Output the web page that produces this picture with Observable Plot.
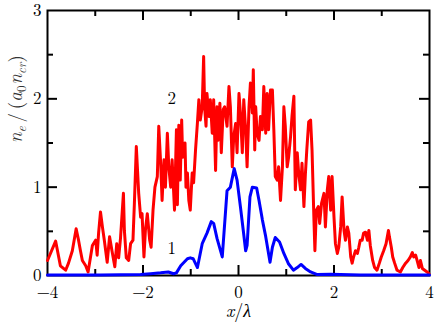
<!DOCTYPE html>
<html><head><meta charset="utf-8">
<script src="https://cdn.jsdelivr.net/npm/d3@7"></script>
<script src="https://cdn.jsdelivr.net/npm/@observablehq/plot@0.6"></script>
<style>
body{margin:0;background:#fff}
#chart svg text, #chart svg tspan{font-family:"Latin Modern Roman","Liberation Serif",serif !important;}
</style>
</head><body><div id="chart"></div>
<script>
// Curve 2 (red, noisy)
const redX = [-4.00,-3.83,-3.73,-3.62,-3.56,-3.48,-3.40,-3.35,-3.31,-3.27,-3.20,-3.15,-3.06,-2.99,-2.96,-2.93,-2.89,-2.85,-2.81,-2.75,-2.70,-2.65,-2.59,-2.55,-2.51,-2.47,-2.41,-2.39,-2.35,-2.30,-2.26,-2.21,-2.18,-2.14,-2.09,-2.05,-2.02,-1.98,-1.95,-1.91,-1.86,-1.83,-1.79,-1.75,-1.70,-1.67,-1.63,-1.60,-1.56,-1.53,-1.49,-1.46,-1.42,-1.39,-1.34,-1.30,-1.28,-1.25,-1.22,-1.19,-1.17,-1.12,-1.10,-1.07,-1.04,-1.01,-0.97,-0.94,-0.90,-0.86,-0.83,-0.80,-0.76,-0.73,-0.71,-0.68,-0.66,-0.62,-0.59,-0.55,-0.52,-0.48,-0.45,-0.43,-0.39,-0.36,-0.32,-0.29,-0.24,-0.20,-0.17,-0.13,-0.10,-0.06,-0.03,0.01,0.04,0.08,0.11,0.15,0.18,0.22,0.25,0.29,0.31,0.34,0.36,0.39,0.43,0.46,0.50,0.53,0.57,0.60,0.63,0.67,0.71,0.74,0.77,0.81,0.84,0.88,0.92,0.95,0.98,1.02,1.05,1.09,1.12,1.16,1.19,1.23,1.26,1.30,1.33,1.37,1.40,1.43,1.47,1.51,1.54,1.58,1.60,1.63,1.67,1.70,1.74,1.79,1.82,1.86,1.89,1.93,1.96,2.00,2.03,2.07,2.10,2.14,2.17,2.21,2.24,2.28,2.31,2.35,2.38,2.41,2.45,2.49,2.52,2.55,2.59,2.62,2.66,2.70,2.73,2.76,2.81,2.85,2.90,2.95,2.99,3.04,3.09,3.14,3.16,3.20,3.23,3.27,3.32,3.39,3.44,3.50,3.55,3.60,3.64,3.67,3.71,3.74,3.78,3.81,3.85,3.90,3.95,3.99];
const redY = [0.17,0.39,0.11,0.06,0.14,0.28,0.53,0.40,0.28,0.17,0.11,0.04,0.34,0.40,0.23,0.48,0.72,0.55,0.40,0.15,0.44,0.28,0.10,0.36,0.20,0.43,0.93,0.51,0.20,0.17,0.36,0.40,0.82,1.46,0.93,0.66,0.70,0.21,0.51,0.70,0.40,0.32,0.74,1.00,1.12,1.69,1.27,0.85,1.31,1.00,1.61,1.23,1.00,1.31,0.74,1.65,0.80,1.70,1.08,1.76,1.34,1.50,1.00,1.16,0.85,0.74,1.16,1.05,1.42,1.73,1.99,1.76,1.91,2.48,1.91,1.69,2.06,1.80,1.99,1.61,1.99,1.19,1.91,1.53,1.95,1.39,1.88,1.91,1.69,2.14,1.91,1.23,1.57,1.72,1.39,2.06,1.84,1.39,1.99,1.65,1.23,1.91,2.18,1.84,2.33,1.42,1.91,1.61,1.53,1.80,1.65,2.14,1.61,2.06,1.65,2.10,2.10,1.65,1.12,1.08,1.23,0.85,1.23,1.91,1.69,1.23,1.34,1.57,1.80,2.03,0.97,1.39,1.16,0.97,1.27,0.78,1.14,1.42,1.74,1.76,1.42,0.63,0.28,0.74,0.78,0.59,0.82,0.93,0.55,0.97,1.12,0.74,1.12,0.66,0.36,0.25,0.32,0.55,0.89,0.51,0.40,0.55,0.48,0.21,0.14,0.21,0.28,0.25,0.32,0.40,0.40,0.48,0.49,0.40,0.51,0.34,0.17,0.09,0.06,0.14,0.21,0.28,0.36,0.51,0.44,0.32,0.21,0.14,0.06,0.04,0.09,0.14,0.17,0.21,0.26,0.21,0.23,0.17,0.09,0.17,0.08,0.06,0.04,0.02];
// Curve 1 (blue, smooth)
const blueX = [-4.00,-2.89,-2.05,-1.84,-1.63,-1.47,-1.36,-1.30,-1.21,-1.07,-1.01,-0.95,-0.86,-0.76,-0.66,-0.57,-0.52,-0.45,-0.34,-0.24,-0.17,-0.09,-0.03,0.04,0.10,0.15,0.18,0.24,0.29,0.38,0.43,0.50,0.57,0.66,0.71,0.77,0.86,0.95,1.05,1.15,1.23,1.31,1.40,1.51,1.65,1.93,2.55,4.00];
const blueY = [0.005,0.005,0.01,0.02,0.03,0.04,0.02,0.03,0.11,0.19,0.20,0.19,0.09,0.36,0.48,0.61,0.59,0.42,0.21,0.96,1.00,1.21,1.08,0.78,0.51,0.28,0.34,0.89,1.00,0.99,0.85,0.63,0.44,0.15,0.32,0.43,0.38,0.25,0.13,0.06,0.09,0.125,0.08,0.04,0.01,0.015,0.005,0.005];
const xTickLabels = [-4, -2, 0, 2, 4];
const yTickLabels = [0, 1, 2, 3];
const xMajorTicks = [-2, 0, 2];
const xMinorTicks = [-3, -1, 1, 3];
const yMajorTicks = [1, 2];
const yMinorTicks = [0.5, 1.5, 2.5];
const curveLabels = [{x: -1.4, y: 2.0, text: "2"}, {x: -1.4, y: 0.3, text: "1"}];
const xLabel = "x/λ";
const yLabel = "ne/(a0ncr)";

const red = redX.map((x, i) => ({x, y: redY[i]}));
const blue = blueX.map((x, i) => ({x, y: blueY[i]}));

const W = 436, H = 329, mL = 47, mR = 7, mT = 10, mB = 54;
const fw = W - mL - mR, fh = H - mT - mB;
const font = "Latin Modern Roman";

const plot = Plot.plot({
  width: W, height: H,
  marginLeft: mL, marginRight: mR, marginTop: mT, marginBottom: mB,
  style: {fontFamily: font, fontSize: "17px", background: "white", color: "black"},
  x: {domain: [-4, 4], label: null},
  y: {domain: [0, 3], label: null},
  marks: [
    Plot.frame({stroke: "black", strokeWidth: 2}),
    Plot.tickX(xMajorTicks, {x: d => d, insetTop: fh - 10, stroke: "black", strokeWidth: 2}),
    Plot.tickX(xMajorTicks, {x: d => d, insetBottom: fh - 10, stroke: "black", strokeWidth: 2}),
    Plot.tickX(xMinorTicks, {x: d => d, insetTop: fh - 6, stroke: "black", strokeWidth: 2}),
    Plot.tickX(xMinorTicks, {x: d => d, insetBottom: fh - 6, stroke: "black", strokeWidth: 2}),
    Plot.tickY(yMajorTicks, {y: d => d, insetRight: fw - 10, stroke: "black", strokeWidth: 2}),
    Plot.tickY(yMajorTicks, {y: d => d, insetLeft: fw - 10, stroke: "black", strokeWidth: 2}),
    Plot.tickY(yMinorTicks, {y: d => d, insetRight: fw - 6, stroke: "black", strokeWidth: 2}),
    Plot.tickY(yMinorTicks, {y: d => d, insetLeft: fw - 6, stroke: "black", strokeWidth: 2}),
    Plot.axisX(xTickLabels, {anchor: "bottom", tickSize: 0, tickPadding: 10, fontSize: 17, fontFamily: font,
      tickFormat: d => d < 0 ? "\u2212" + (-d) : String(d)}),
    Plot.axisY(yTickLabels, {anchor: "left", tickSize: 0, tickPadding: 6, fontSize: 17, fontFamily: font,
      tickFormat: d => String(d)}),
    Plot.line(red, {x: "x", y: "y", stroke: "#ff0000", strokeWidth: 3, strokeLinejoin: "round"}),
    Plot.line(blue, {x: "x", y: "y", stroke: "#0000ff", strokeWidth: 3, strokeLinejoin: "round"}),
    Plot.text(curveLabels, {x: "x", y: "y", text: "text", fontSize: 17, fontFamily: font, fill: "black"}),
    Plot.text([xLabel], {frameAnchor: "bottom", dy: 41, fontSize: 18, fontFamily: font, fill: "black"}),
    Plot.text([yLabel], {frameAnchor: "left", dx: -32, rotate: -90, fontSize: 19, fontFamily: font, fill: "#333"})
  ]
});

// Math-style formatting of the axis labels, and font on every text
d3.select(plot).selectAll("text").each(function() {
  const t = this.textContent;
  const sel = d3.select(this);
  sel.attr("font-family", font);
  if (t === xLabel) {
    sel.text(null);
    sel.append("tspan").attr("font-style", "italic").text("x");
    sel.append("tspan").text("/");
    sel.append("tspan").attr("font-style", "italic").text("λ");
  } else if (t === yLabel) {
    sel.text(null);
    sel.append("tspan").attr("font-style", "italic").text("n");
    sel.append("tspan").attr("font-style", "italic").attr("font-size", 13).attr("dy", 4).text("e");
    sel.append("tspan").attr("dy", -4).text("\u2009/\u2009(");
    sel.append("tspan").attr("font-style", "italic").text("a");
    sel.append("tspan").attr("font-size", 13).attr("dy", 4).text("0");
    sel.append("tspan").attr("font-style", "italic").attr("dy", -4).attr("dx", 1).text("n");
    sel.append("tspan").attr("font-style", "italic").attr("font-size", 13).attr("dy", 4).text("cr");
    sel.append("tspan").attr("dy", -4).text(")");
  }
});

document.getElementById("chart").appendChild(plot);
</script>
</body></html>
